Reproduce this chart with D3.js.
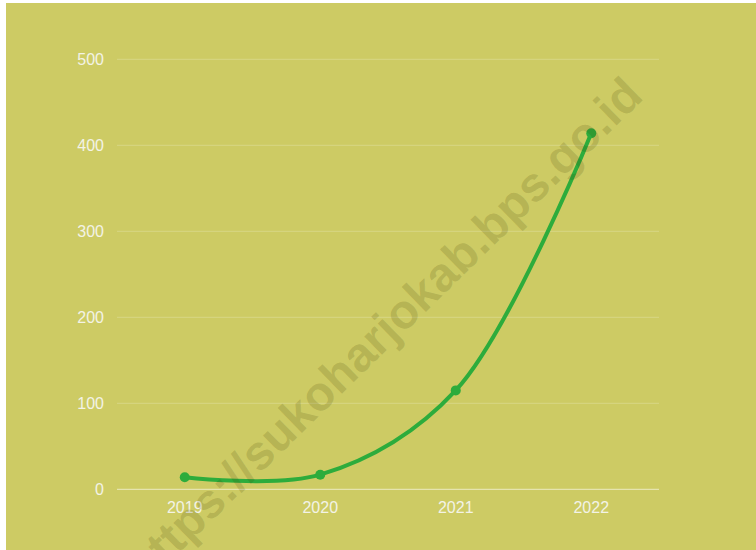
<!DOCTYPE html>
<html><head><meta charset="utf-8">
<script src="https://cdn.jsdelivr.net/npm/d3@7"></script>
<style>html,body{margin:0;padding:0;background:#fff;}svg{display:block;}</style>
</head><body>
<svg id="c" width="756" height="550"></svg>
<script>
const categories = ["2019", "2020", "2021", "2022"];
const values = [14, 17, 115, 414];
const yTicks = [0, 100, 200, 300, 400, 500];
const watermark = "https://sukoharjokab.bps.go.id";

(function () {
const svg = d3.select("#c");
svg.append("rect").attr("x", 6).attr("y", 3).attr("width", 750).attr("height", 547).attr("fill", "#cdcb64");

const pLeft = 117, pRight = 659, pTop = 59.3, pBottom = 489.3;
const x = d3.scaleBand().domain(categories).range([pLeft, pRight]);
const y = d3.scaleLinear().domain([0, 500]).range([pBottom, pTop]);

svg.append("g").selectAll("line").data(yTicks).join("line")
  .attr("x1", pLeft).attr("x2", pRight)
  .attr("y1", d => y(d)).attr("y2", d => y(d))
  .attr("stroke", d => d === 0 ? "rgba(255,255,255,0.6)" : "rgba(255,255,255,0.22)")
  .attr("stroke-width", 1);

const font = "'Liberation Sans', Arial, sans-serif";
const yAxis = d3.axisLeft(y).tickValues(yTicks).tickSize(0).tickPadding(13);
const gy = svg.append("g").attr("transform", `translate(${pLeft},0)`).call(yAxis);
gy.select(".domain").remove();
gy.selectAll("text").attr("fill", "#f3f3e6").style("font-family", font).style("font-size", "16px");

const xAxis = d3.axisBottom(x).tickSize(0).tickPadding(12);
const gx = svg.append("g").attr("transform", `translate(0,${pBottom})`).call(xAxis);
gx.select(".domain").remove();
gx.selectAll("text").attr("fill", "#f3f3e6").style("font-family", font).style("font-size", "16px");

const cx = d => x(d) + x.bandwidth() / 2;
const line = d3.line().x((d, i) => cx(categories[i])).y(d => y(d)).curve(d3.curveCatmullRom.alpha(0.5));
svg.append("path").datum(values).attr("d", line).attr("fill", "none")
  .attr("stroke", "#2dac3c").attr("stroke-width", 4).attr("stroke-linecap", "round");
svg.append("g").selectAll("circle").data(values).join("circle")
  .attr("cx", (d, i) => cx(categories[i])).attr("cy", d => y(d)).attr("r", 5).attr("fill", "#2dac3c");

svg.append("text").text(watermark)
  .attr("transform", "translate(386,333) rotate(-44.3)")
  .attr("text-anchor", "middle").attr("dominant-baseline", "middle")
  .style("font-family", font).style("font-weight", "bold").style("font-size", "48px")
  .attr("fill", "rgba(60,60,0,0.17)");
})();
</script>
</body></html>
